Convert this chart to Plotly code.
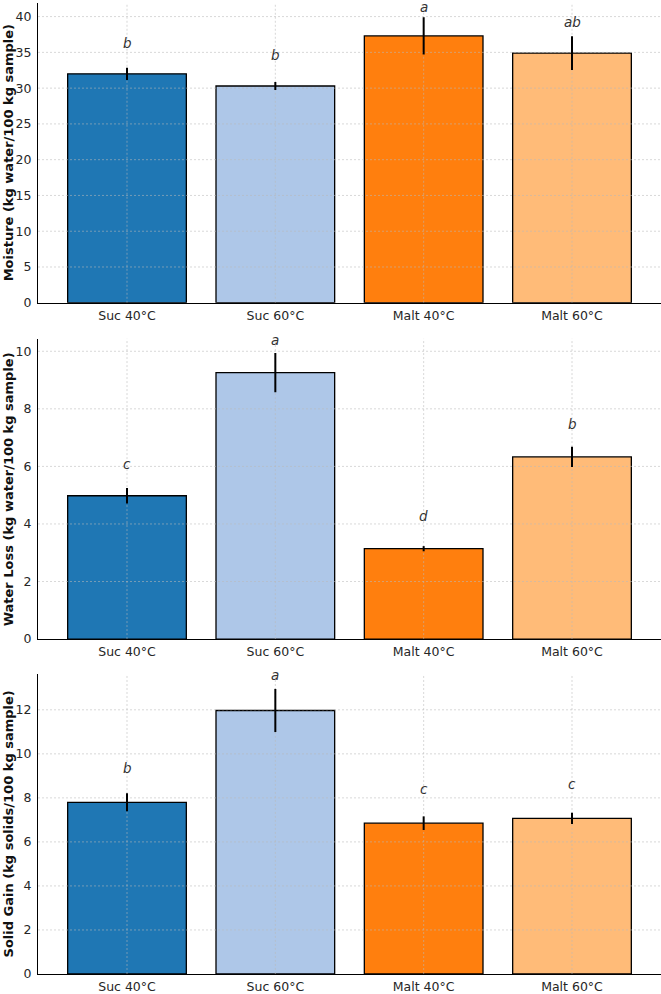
import plotly.graph_objects as go

categories = ["Suc 40°C", "Suc 60°C", "Malt 40°C", "Malt 60°C"]
colors = ["#1f77b4", "#aec7e8", "#ff7f0e", "#ffbb78"]

moisture = [32.0, 30.3, 37.3, 34.9]
moisture_sd = [0.85, 0.55, 2.6, 2.35]
moisture_letters = ["b", "b", "a", "ab"]
moisture_letter_y = [36.3, 34.7, 41.3, 39.2]

water_loss = [4.98, 9.26, 3.14, 6.33]
water_loss_sd = [0.27, 0.68, 0.09, 0.35]
water_loss_letters = ["c", "a", "d", "b"]
water_loss_letter_y = [6.1, 10.38, 4.27, 7.47]

solid_gain = [7.80, 11.97, 6.85, 7.07]
solid_gain_sd = [0.41, 0.98, 0.31, 0.26]
solid_gain_letters = ["b", "a", "c", "c"]
solid_gain_letter_y = [9.37, 13.56, 8.40, 8.63]

titles = ["Moisture (kg water/100 kg sample)",
          "Water Loss (kg water/100 kg sample)",
          "Solid Gain (kg solids/100 kg sample)"]
yranges = [[0, 41.9], [0, 10.44], [0, 13.63]]
ytick_steps = [5, 2, 2]
ytick_max = [40, 10, 12]

W, H = 661, 994
ML, MR, MT, MB = 38, 0, 3, 16
ph = H - MT - MB
def frac(pix):
    return min(1.0, max(0.0, (H - MB - pix) / ph))

domains = [[frac(304), frac(3)], [frac(641.7), frac(340)], [frac(978.3), frac(676.7)]]

panels = [
    (moisture, moisture_sd, moisture_letters, moisture_letter_y),
    (water_loss, water_loss_sd, water_loss_letters, water_loss_letter_y),
    (solid_gain, solid_gain_sd, solid_gain_letters, solid_gain_letter_y),
]

xpos = list(range(len(categories)))
xrange_ = [-0.6, len(categories) - 0.4]

fig = go.Figure()
font_family = "DejaVu Sans"
grid_col = "rgba(185,185,185,0.7)"
tick_font = dict(size=12.5, color="#262626")
layout = dict(
    width=W, height=H,
    margin=dict(l=ML, r=MR, t=MT, b=MB),
    plot_bgcolor="white", paper_bgcolor="white",
    showlegend=False,
    font=dict(family=font_family, size=12.5, color="#262626"),
    annotations=[],
)

for i, (vals, sds, letters, ly) in enumerate(panels):
    n = "" if i == 0 else str(i + 1)
    xa, ya = "x" + n, "y" + n
    tickvals = list(range(0, ytick_max[i] + 1, ytick_steps[i]))
    # bars
    fig.add_trace(go.Bar(
        x=xpos, y=vals, xaxis=xa, yaxis=ya,
        marker=dict(color=colors, line=dict(color="black", width=1.3)),
        width=0.8, hoverinfo="skip",
    ))
    # grid lines above bars (matplotlib style), below error bars
    gx, gy = [], []
    for tv in tickvals[1:]:
        gx += [xrange_[0], xrange_[1], None]
        gy += [tv, tv, None]
    for xp in xpos:
        gx += [xp, xp, None]
        gy += [yranges[i][0], yranges[i][1], None]
    fig.add_trace(go.Scatter(
        x=gx, y=gy, xaxis=xa, yaxis=ya, mode="lines",
        line=dict(color=grid_col, width=0.8, dash="2px,2px"),
        hoverinfo="skip", cliponaxis=True,
    ))
    # error bars
    fig.add_trace(go.Scatter(
        x=xpos, y=vals, xaxis=xa, yaxis=ya, mode="markers",
        marker=dict(size=1, opacity=0),
        error_y=dict(type="data", array=sds, visible=True, color="black",
                     thickness=2, width=0),
        hoverinfo="skip",
    ))
    layout["xaxis" + n] = dict(
        domain=[0, 1], anchor=ya, range=xrange_,
        tickvals=xpos, ticktext=categories,
        showgrid=False, zeroline=False, showline=True,
        linecolor="black", linewidth=1.2, ticks="",
        ticklabelstandoff=1, tickfont=tick_font,
    )
    layout["yaxis" + n] = dict(
        domain=domains[i], anchor=xa, range=yranges[i],
        tickvals=tickvals, showgrid=False, zeroline=False,
        showline=True, linecolor="black", linewidth=1.2,
        ticks="", ticklabelstandoff=3, tickfont=tick_font,
    )
    for xp, l, yv in zip(xpos, letters, ly):
        layout["annotations"].append(dict(
            x=xp, y=yv, xref=xa, yref=ya, text=l, showarrow=False,
            font=dict(size=13.5, color="#333", style="italic"),
            xanchor="center", yanchor="middle"))
    layout["annotations"].append(dict(
        x=-0.0474, y=sum(domains[i]) / 2, xref="paper", yref="paper",
        text=titles[i], textangle=-90, showarrow=False,
        font=dict(size=13, color="#111", weight="bold"),
        xanchor="center", yanchor="middle"))

fig.update_layout(**layout)
fig.write_html("out.html")
